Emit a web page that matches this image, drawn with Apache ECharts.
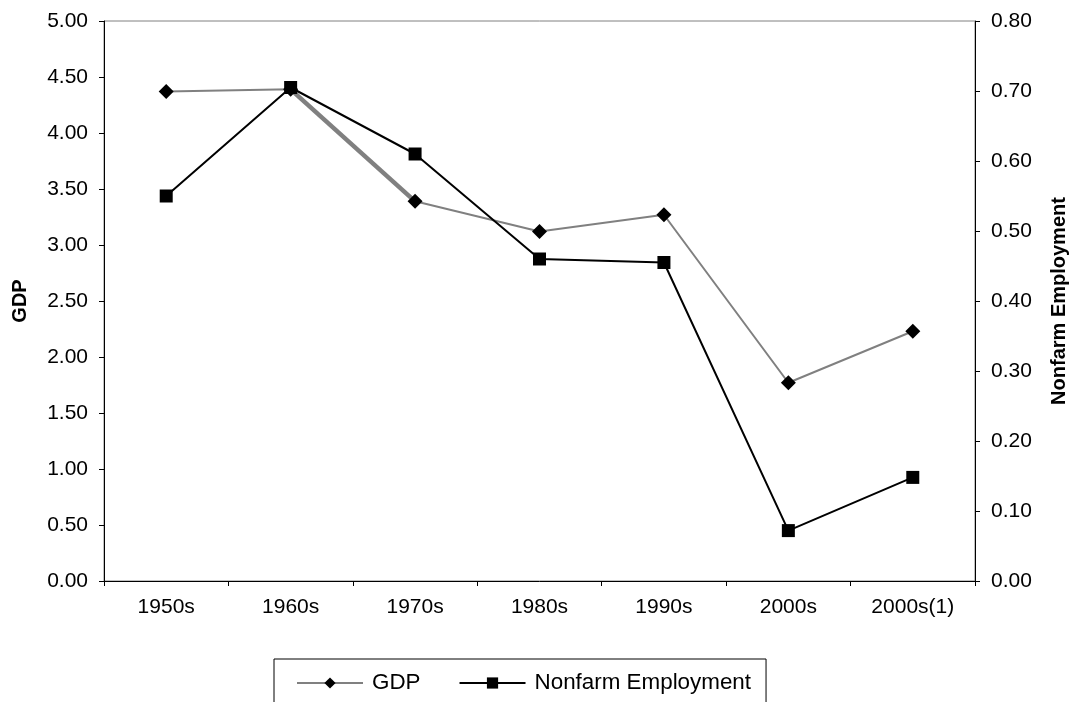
<!DOCTYPE html>
<html>
<head>
<meta charset="utf-8">
<script src="https://cdn.jsdelivr.net/npm/echarts@6/dist/echarts.min.js"></script>
<style>
  html, body { margin: 0; padding: 0; background: #fff; }
  #chart { width: 1077px; height: 702px; }
</style>
</head>
<body>
<div id="chart"></div>
<script>
// Decades on the category axis
const decades = ['1950s', '1960s', '1970s', '1980s', '1990s', '2000s', '2000s(1)'];
// GDP growth (left axis)
const gdp = [4.37, 4.39, 3.39, 3.12, 3.27, 1.77, 2.23];
// Nonfarm employment growth (right axis)
const nonfarm = [0.55, 0.705, 0.61, 0.46, 0.455, 0.072, 0.148];

const FONT = '"Liberation Sans", Arial, sans-serif';

const chart = echarts.init(document.getElementById('chart'), null, { renderer: 'canvas' });

// Heavier stroke on the 1960s-1970s GDP segment
const gdpHeavy = gdp.map((v, i) => (i === 1 || i === 2) ? v : null);

chart.setOption({
  backgroundColor: '#fff',
  animation: false,
  textStyle: { fontFamily: FONT },
  grid: {
    left: 104, right: 96, top: 21, bottom: 121,
    show: true, borderColor: '#808080', borderWidth: 1
  },
  legend: {
    data: ['GDP', 'Nonfarm Employment'],
    left: 274, top: 659,
    padding: [13, 15, 20, 22],
    itemGap: 38,
    itemWidth: 66, itemHeight: 14,
    borderColor: '#000', borderWidth: 1,
    backgroundColor: '#fff',
    textStyle: { fontFamily: FONT, fontSize: 22.4, color: '#000', padding: [0, 0, 0, 4] }
  },
  xAxis: {
    type: 'category',
    data: decades,
    boundaryGap: true,
    axisLine: { lineStyle: { color: '#000', width: 1 } },
    axisTick: { show: true, length: 5, lineStyle: { color: '#000' } },
    axisLabel: { fontFamily: FONT, fontSize: 21, color: '#000', margin: 16, interval: 0 },
    splitLine: { show: false }
  },
  yAxis: [
    {
      type: 'value', min: 0, max: 5, interval: 0.5,
      name: 'GDP', nameLocation: 'middle', nameGap: 74, nameRotate: 90,
      nameTextStyle: { fontFamily: FONT, fontSize: 20, fontWeight: 'bold', color: '#000' },
      axisLine: { show: true, lineStyle: { color: '#000', width: 1 } },
      axisTick: { show: true, length: 5, lineStyle: { color: '#000' } },
      axisLabel: { fontFamily: FONT, fontSize: 21, color: '#000', margin: 16,
                   formatter: v => v.toFixed(2) },
      splitLine: { show: false }
    },
    {
      type: 'value', min: 0, max: 0.8, interval: 0.1, position: 'right',
      name: 'Nonfarm Employment', nameLocation: 'middle', nameGap: 74, nameRotate: 90,
      nameTextStyle: { fontFamily: FONT, fontSize: 20, fontWeight: 'bold', color: '#000' },
      axisLine: { show: true, lineStyle: { color: '#000', width: 1 } },
      axisTick: { show: true, length: 5, lineStyle: { color: '#000' } },
      axisLabel: { fontFamily: FONT, fontSize: 21, color: '#000', margin: 16,
                   formatter: v => v.toFixed(2) },
      splitLine: { show: false }
    }
  ],
  series: [
    {
      name: 'GDP', type: 'line', yAxisIndex: 0, data: gdp,
      symbol: 'diamond', symbolSize: 15, showSymbol: true,
      lineStyle: { color: '#808080', width: 2 },
      itemStyle: { color: '#000', borderWidth: 0 },
      z: 3
    },
    {
      name: 'GDP segment', type: 'line', yAxisIndex: 0, data: gdpHeavy,
      symbol: 'none', connectNulls: false,
      lineStyle: { color: '#808080', width: 4.5 },
      z: 2, silent: true
    },
    {
      name: 'Nonfarm Employment', type: 'line', yAxisIndex: 1, data: nonfarm,
      symbol: 'rect', symbolSize: 13, showSymbol: true,
      lineStyle: { color: '#000', width: 2 },
      itemStyle: { color: '#000', borderWidth: 0 },
      z: 4
    }
  ]
});
</script>
</body>
</html>
